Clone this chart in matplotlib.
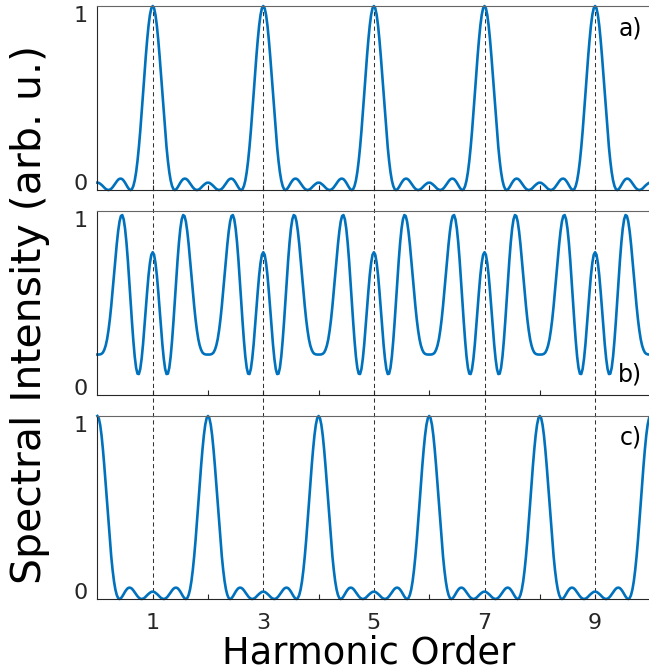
import numpy as np
import matplotlib
matplotlib.use('Agg')
import matplotlib.pyplot as plt

# one period of each curve (harmonic order 0 -> 1.975, step 0.025);
# every panel repeats itself each 2 harmonic orders
step = 0.025
n_periods = 5

period_a = [0.040, 0.039, 0.034, 0.028, 0.021, 0.013, 0.006, 0.002, 0.000, 0.002,
            0.007, 0.015, 0.025, 0.036, 0.047, 0.056, 0.061, 0.062, 0.059, 0.051,
            0.040, 0.027, 0.014, 0.004, 0.000, 0.005, 0.022, 0.052, 0.097, 0.158,
            0.233, 0.321, 0.419, 0.522, 0.627, 0.727, 0.817, 0.894, 0.952, 0.988,
            1.000, 0.988, 0.952, 0.894, 0.817, 0.727, 0.627, 0.522, 0.419, 0.321,
            0.233, 0.158, 0.097, 0.052, 0.022, 0.005, 0.000, 0.004, 0.014, 0.027,
            0.040, 0.051, 0.059, 0.062, 0.061, 0.056, 0.047, 0.036, 0.025, 0.015,
            0.007, 0.002, 0.000, 0.002, 0.006, 0.013, 0.021, 0.028, 0.034, 0.039]

period_b = [0.220, 0.220, 0.221, 0.224, 0.231, 0.246, 0.269, 0.303, 0.351, 0.411,
            0.484, 0.565, 0.652, 0.739, 0.820, 0.890, 0.943, 0.973, 0.978, 0.955,
            0.905, 0.830, 0.735, 0.626, 0.511, 0.398, 0.295, 0.209, 0.148, 0.116,
            0.114, 0.142, 0.198, 0.275, 0.368, 0.467, 0.564, 0.651, 0.718, 0.762,
            0.776, 0.762, 0.718, 0.651, 0.564, 0.467, 0.368, 0.275, 0.198, 0.142,
            0.114, 0.116, 0.148, 0.209, 0.295, 0.398, 0.511, 0.626, 0.735, 0.830,
            0.905, 0.955, 0.978, 0.973, 0.943, 0.890, 0.820, 0.739, 0.652, 0.565,
            0.484, 0.411, 0.351, 0.303, 0.269, 0.246, 0.231, 0.224, 0.221, 0.220]

period_c = [1.000, 0.988, 0.952, 0.894, 0.817, 0.727, 0.627, 0.522, 0.419, 0.321,
            0.233, 0.158, 0.097, 0.052, 0.022, 0.005, 0.000, 0.004, 0.014, 0.027,
            0.040, 0.051, 0.059, 0.062, 0.061, 0.056, 0.047, 0.036, 0.025, 0.015,
            0.007, 0.002, 0.000, 0.002, 0.006, 0.013, 0.021, 0.028, 0.034, 0.039,
            0.040, 0.039, 0.034, 0.028, 0.021, 0.013, 0.006, 0.002, 0.000, 0.002,
            0.007, 0.015, 0.025, 0.036, 0.047, 0.056, 0.061, 0.062, 0.059, 0.051,
            0.040, 0.027, 0.014, 0.004, 0.000, 0.005, 0.022, 0.052, 0.097, 0.158,
            0.233, 0.321, 0.419, 0.522, 0.627, 0.727, 0.817, 0.894, 0.952, 0.988]

odd_orders = [1, 3, 5, 7, 9]
tick_orders = [1, 2, 3, 4, 5, 6, 7, 8, 9]
panel_names = ['a)', 'b)', 'c)']


def full_curve(period):
    period = np.asarray(period)
    return np.concatenate([np.tile(period, n_periods), period[:1]])


x = np.arange(len(period_a) * n_periods + 1) * step
curves = [full_curve(period_a), full_curve(period_b), full_curve(period_c)]

blue = '#0072BD'
dark = '#262626'

fig = plt.figure(figsize=(6.49, 6.71), dpi=100)

left = 97.4 / 649
width = 553 / 649
# (bottom, height) of the three panels in figure fractions
boxes = [(0.7168, 0.2742), (0.4113, 0.2742), (0.1073, 0.2727)]

# dashed guides at the odd orders, running through all three panels
guide = fig.add_axes([left, 0.1073, width, 0.9911 - 0.1073], zorder=0)
guide.set_xlim(0, 10)
guide.set_ylim(0, 1)
guide.axis('off')
for xo in odd_orders:
    guide.axvline(xo, color='#333333', lw=0.75, dashes=[4, 3])

for i, (b, h) in enumerate(boxes):
    ax = fig.add_axes([left, b, width, h], zorder=1)
    ax.patch.set_visible(False)
    ax.plot(x, curves[i], color=blue, lw=1.9, clip_on=False, solid_joinstyle='round')
    ax.set_xlim(0, 10)
    ax.set_ylim(0, 1)

    ax.spines['right'].set_visible(False)
    for s in ['left', 'bottom']:
        ax.spines[s].set_color(dark)
        ax.spines[s].set_linewidth(0.8)
    ax.spines['top'].set_color('#666666')
    ax.spines['top'].set_linewidth(0.8)

    ax.set_xticks(tick_orders)
    if i == 2:
        ax.set_xticklabels([str(t) if t % 2 else '' for t in tick_orders])
    else:
        ax.set_xticklabels([])
    ax.tick_params(axis='x', direction='in', length=3.5, width=0.8, color=dark,
                   labelsize=16, pad=10, labelcolor=dark)

    ax.set_yticks([0, 1])
    ax.set_yticklabels(['0', '1'])
    ax.tick_params(axis='y', direction='in', length=0, labelsize=16, pad=7,
                   labelcolor=dark)
    ylabels = ax.get_yticklabels()
    ylabels[0].set_va('baseline')
    ylabels[1].set_va('top')

    ypos = 0.11 if i == 1 else 0.88
    ax.text(0.985, ypos, panel_names[i], transform=ax.transAxes,
            ha='right', va='center', fontsize=17, color='black')

fig.text(369 / 649, 8 / 671, 'Harmonic Order', ha='center',
         va='baseline', fontsize=26.5, color='black')
fig.text(30 / 649, 357 / 671, 'Spectral Intensity (arb. u.)', rotation=90,
         ha='center', va='center', fontsize=29.5, color='black')

fig.savefig('out.png', dpi=100)
